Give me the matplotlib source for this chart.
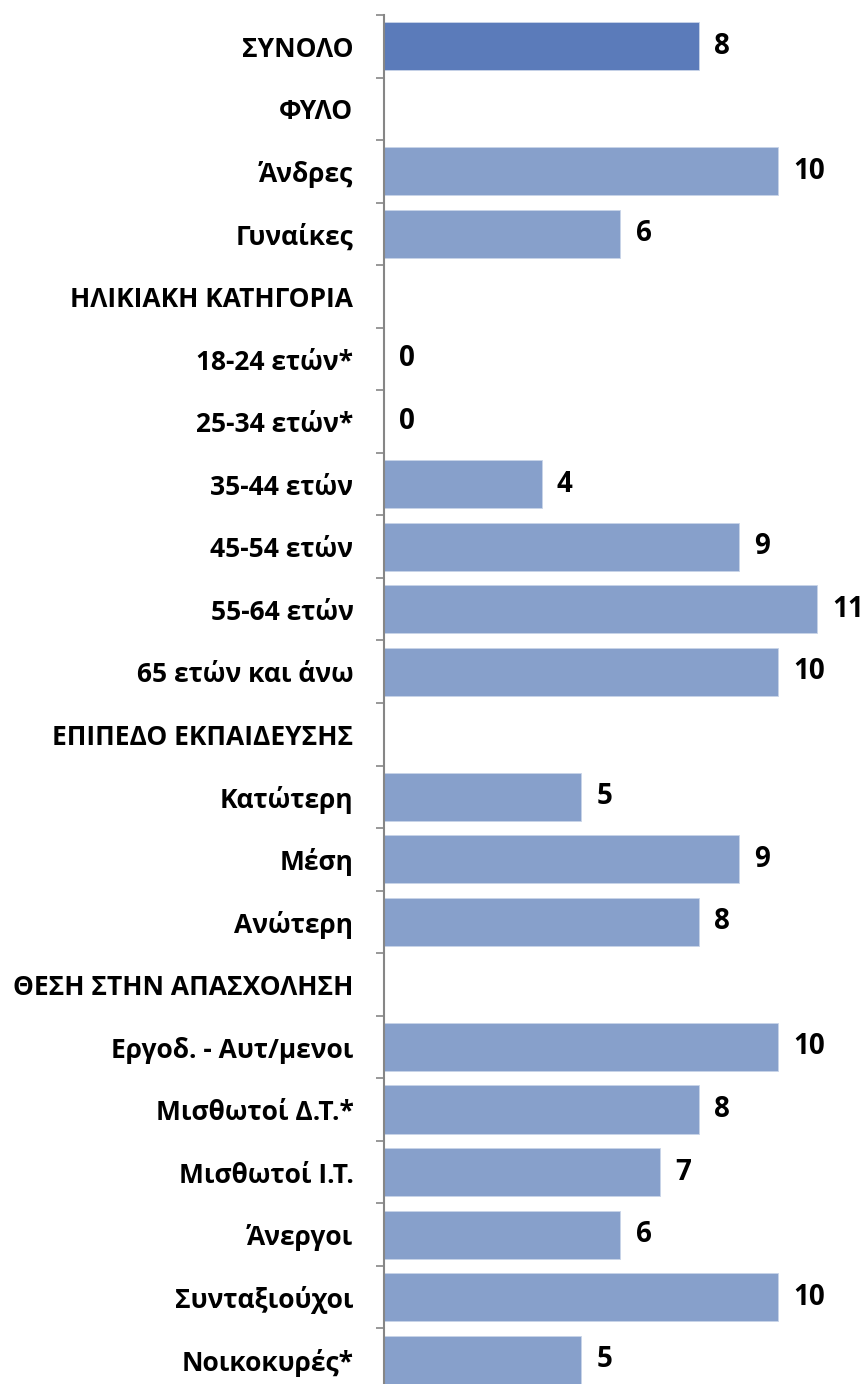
import numpy as np
import matplotlib
matplotlib.use('Agg')
from matplotlib import pyplot as plt

plt.rcParams['font.family'] = ['Open Sans', 'DejaVu Sans']

# Categories (top to bottom) and their values; section headers have no bar
categories = ['ΣΥΝΟΛΟ', 'ΦΥΛΟ', 'Άνδρες', 'Γυναίκες', 'ΗΛΙΚΙΑΚΗ ΚΑΤΗΓΟΡΙΑ',
              '18-24 ετών*', '25-34 ετών*', '35-44 ετών', '45-54 ετών',
              '55-64 ετών', '65 ετών και άνω', 'ΕΠΙΠΕΔΟ ΕΚΠΑΙΔΕΥΣΗΣ',
              'Κατώτερη', 'Μέση', 'Ανώτερη', 'ΘΕΣΗ ΣΤΗΝ ΑΠΑΣΧΟΛΗΣΗ',
              'Εργοδ. - Αυτ/μενοι', 'Μισθωτοί Δ.Τ.*', 'Μισθωτοί Ι.Τ.',
              'Άνεργοι', 'Συνταξιούχοι', 'Νοικοκυρές*']
values = [8, None, 10, 6, None, 0, 0, 4, 9, 11, 10, None,
          5, 9, 8, None, 10, 8, 7, 6, 10, 5]

total_color = '#5B7BBA'
bar_color = '#87A0CB'

fig = plt.figure(figsize=(8.67, 13.84), dpi=100)
ax = fig.add_axes([384 / 867, -7 / 1384, 1 - 384 / 867, 1376 / 1384])

y = np.arange(len(categories))
for i, (cat, val) in enumerate(zip(categories, values)):
    if val is None:
        continue
    col = total_color if i == 0 else bar_color
    ax.barh(i, val, height=0.77, color=col, edgecolor='#C9D4E8', linewidth=0.6)
    ax.annotate(str(val), (val, i), xytext=(11, 0), textcoords='offset points',
                ha='left', va='center', fontsize=20, fontweight='bold', color='black')

ax.set_xlim(0, (867 - 384) / 39.4)
ax.set_ylim(len(categories) - 0.5, -0.5)

ax.set_yticks(y)
ax.set_yticklabels(categories, fontsize=19, fontweight='bold')
ax.set_yticks(np.arange(len(categories) + 1) - 0.5, minor=True)
ax.tick_params(axis='y', which='major', length=0, pad=22)
ax.tick_params(axis='y', which='minor', length=6, width=1.2, color='#868686')
ax.set_xticks([])

for s in ['top', 'right', 'bottom']:
    ax.spines[s].set_visible(False)
ax.spines['left'].set_color('#868686')
ax.spines['left'].set_linewidth(1.5)

fig.savefig('out.png', dpi=100)
